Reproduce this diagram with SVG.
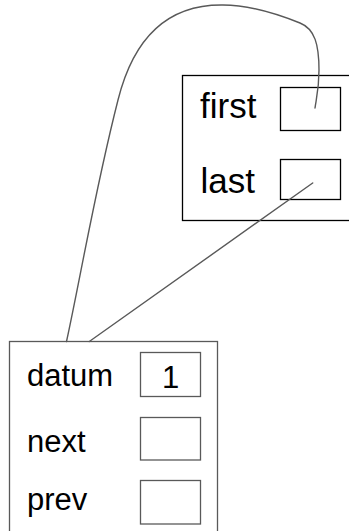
<svg xmlns="http://www.w3.org/2000/svg" width="349" height="531" viewBox="0 0 349 531">
  <style>
    .outer { fill: #ffffff; stroke: #000000; stroke-width: 1.3; }
    .outer-grey { fill: #ffffff; stroke: #595959; stroke-width: 1.3; }
    .slot { fill: #ffffff; stroke: #000000; stroke-width: 1.3; }
    .slot-grey { fill: #ffffff; stroke: #595959; stroke-width: 1.3; }
    .label { font-family: "Liberation Sans", Arial, sans-serif; fill: #000000; }
    .wire { fill: none; stroke: #595959; stroke-width: 1.4; stroke-linecap: round; }
  </style>

  <!-- list header object -->
  <g id="list">
    <rect class="outer" x="182.5" y="75.5" width="200" height="145"/>
    <text class="label" x="200" y="118.3" font-size="35">first</text>
    <rect class="slot" x="280.5" y="87.5" width="60" height="43"/>
    <text class="label" x="200.5" y="192.7" font-size="35">last</text>
    <rect class="slot" x="280.5" y="159.5" width="60" height="40"/>
  </g>

  <!-- node object -->
  <g id="node">
    <rect class="outer-grey" x="9.5" y="341.5" width="208" height="220"/>
    <text class="label" x="27" y="386" font-size="31">datum</text>
    <rect class="slot-grey" x="140.5" y="352.5" width="60" height="44"/>
    <text class="label" x="170.5" y="388.3" font-size="31" text-anchor="middle">1</text>
    <text class="label" x="27" y="451.7" font-size="31">next</text>
    <rect class="slot-grey" x="140.5" y="417.5" width="60" height="42.5"/>
    <text class="label" x="27" y="510" font-size="31">prev</text>
    <rect class="slot-grey" x="140.5" y="480.5" width="60" height="43.5"/>
  </g>

  <!-- references -->
  <g id="connectors">
    <path class="wire" d="M66.5,341.5 C80,280 95,190 118,100 C127,64 150,4 223,5 C250,5 280,15 300,23 C315,29 319,45 319,70 C319,90 316,100 315,108"/>
    <path class="wire" d="M312.7,183 L89.3,341.5"/>
  </g>
</svg>
